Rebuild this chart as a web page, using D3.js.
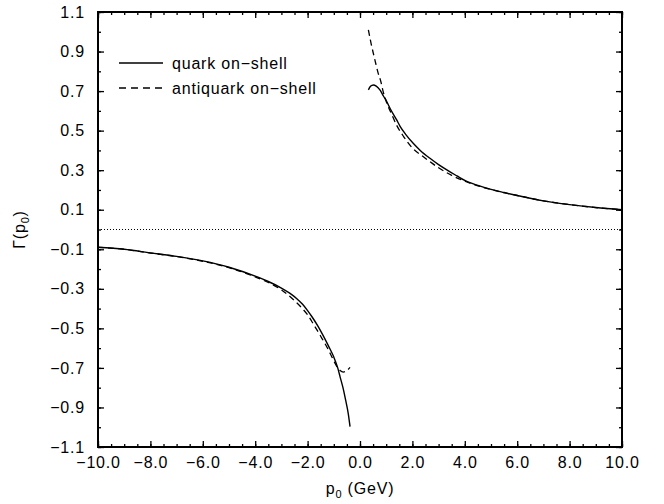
<!DOCTYPE html>
<html>
<head>
<meta charset="utf-8">
<script src="https://cdn.jsdelivr.net/npm/d3@7"></script>
<style>
  body { margin: 0; background: #fff; }
  text { font-family: "Liberation Sans", Arial, sans-serif; letter-spacing: 0.8px; }
</style>
</head>
<body>
<div id="chart"></div>
<script>
// quark on-shell (solid), two branches
var quarkPos = [[0.32,0.706],[0.40,0.724],[0.51,0.731],[0.62,0.725],[0.76,0.706],[0.9,0.674],[1.0,0.652],[1.15,0.612],[1.4,0.554],[1.53,0.522],[1.75,0.48],[2.03,0.436],[2.3,0.40],[2.67,0.36],[3.0,0.328],[3.33,0.30],[3.7,0.271],[4.0,0.248],[4.5,0.223],[5.0,0.203],[5.5,0.187],[6.0,0.172],[7.0,0.145],[8.0,0.126],[9.0,0.111],[10.0,0.100]];
var quarkNeg = [[-10.0,-0.090],[-9.0,-0.100],[-8.0,-0.118],[-7.0,-0.136],[-6.0,-0.159],[-5.0,-0.191],[-4.0,-0.236],[-3.5,-0.263],[-3.0,-0.296],[-2.67,-0.323],[-2.4,-0.351],[-2.2,-0.377],[-2.0,-0.410],[-1.84,-0.440],[-1.6,-0.490],[-1.4,-0.538],[-1.2,-0.590],[-1.0,-0.645],[-0.85,-0.700],[-0.76,-0.745],[-0.65,-0.80],[-0.55,-0.862],[-0.45,-0.93],[-0.38,-0.997]];
// antiquark on-shell (dashed)
var antiPos = [[0.32,1.01],[0.42,0.943],[0.57,0.857],[0.69,0.792],[0.8,0.746],[0.88,0.700],[1.0,0.648],[1.2,0.585],[1.4,0.527],[1.67,0.469],[2.0,0.412],[2.42,0.368],[3.0,0.312],[3.5,0.274],[4.0,0.244],[4.5,0.221],[5.0,0.202],[5.5,0.186],[6.0,0.172],[7.0,0.145],[8.0,0.126],[9.0,0.111],[10.0,0.100]];
var antiNeg = [[-10.0,-0.090],[-9.0,-0.100],[-8.0,-0.119],[-7.0,-0.137],[-6.0,-0.161],[-5.0,-0.193],[-4.0,-0.240],[-3.5,-0.268],[-3.0,-0.305],[-2.5,-0.360],[-2.2,-0.400],[-2.0,-0.432],[-1.78,-0.478],[-1.5,-0.540],[-1.27,-0.593],[-1.1,-0.637],[-0.95,-0.677],[-0.85,-0.700],[-0.76,-0.713],[-0.64,-0.721],[-0.5,-0.713],[-0.38,-0.697]];

var xTicks = d3.range(-10, 10.01, 2);
var xMinor = d3.range(-10, 10.01, 0.5);
var yTicks = [-1.1,-0.9,-0.7,-0.5,-0.3,-0.1,0.1,0.3,0.5,0.7,0.9,1.1];
var yMinor = d3.range(-11, 11.5, 1).map(d => d / 10);
var legendLabels = ["quark on\u2212shell", "antiquark on\u2212shell"];

var W = 664, H = 504;
var margin = {top: 12, right: 42, bottom: 57, left: 98};
var width = W - margin.left - margin.right;
var height = H - margin.top - margin.bottom;

var svg = d3.select("#chart").append("svg")
  .attr("width", W).attr("height", H);
var g = svg.append("g")
  .attr("transform", "translate(" + margin.left + "," + margin.top + ")");

var x = d3.scaleLinear().domain([-10, 10]).range([0, width]);
var y = d3.scaleLinear().domain([-1.1, 1.1]).range([height, 0]);

// zero line
g.append("line")
  .attr("x1", 0).attr("x2", width)
  .attr("y1", y(0)).attr("y2", y(0))
  .attr("stroke", "#000").attr("stroke-width", 1)
  .attr("stroke-dasharray", "1,2");

var line = d3.line().x(d => x(d[0])).y(d => y(d[1])).curve(d3.curveMonotoneX);

[quarkPos, quarkNeg].forEach(function(s) {
  g.append("path").datum(s).attr("d", line)
    .attr("fill", "none").attr("stroke", "#000").attr("stroke-width", 1.4);
});
[antiPos, antiNeg].forEach(function(s) {
  g.append("path").datum(s).attr("d", line)
    .attr("fill", "none").attr("stroke", "#000").attr("stroke-width", 1.3)
    .attr("stroke-dasharray", "6,4");
});

// axes: minor ticks first, then major with labels
function styleAxis(sel) {
  sel.select(".domain").remove();
  sel.selectAll("line").attr("stroke", "#000").attr("stroke-width", 1.3);
  sel.selectAll("text").attr("fill", "#000").style("font-size", "16px");
}

g.append("g").attr("transform", "translate(0," + height + ")")
  .call(d3.axisBottom(x).tickValues(xMinor).tickSize(-3).tickFormat(""))
  .call(styleAxis);
g.append("g").attr("transform", "translate(0," + height + ")")
  .call(d3.axisBottom(x).tickValues(xTicks).tickSize(-6).tickPadding(10).tickFormat(d3.format(".1f")))
  .call(styleAxis);
g.append("g")
  .call(d3.axisTop(x).tickValues(xMinor).tickSize(-3).tickFormat(""))
  .call(styleAxis);
g.append("g")
  .call(d3.axisTop(x).tickValues(xTicks).tickSize(-6).tickFormat(""))
  .call(styleAxis);

g.append("g")
  .call(d3.axisLeft(y).tickValues(yMinor).tickSize(-3).tickFormat(""))
  .call(styleAxis);
g.append("g")
  .call(d3.axisLeft(y).tickValues(yTicks).tickSize(-6).tickPadding(13).tickFormat(d3.format(".1f")))
  .call(styleAxis);
g.append("g").attr("transform", "translate(" + width + ",0)")
  .call(d3.axisRight(y).tickValues(yMinor).tickSize(-3).tickFormat(""))
  .call(styleAxis);
g.append("g").attr("transform", "translate(" + width + ",0)")
  .call(d3.axisRight(y).tickValues(yTicks).tickSize(-6).tickFormat(""))
  .call(styleAxis);

// frame
g.append("rect")
  .attr("width", width).attr("height", height)
  .attr("fill", "none").attr("stroke", "#000").attr("stroke-width", 2);

// axis titles
var xt = svg.append("text")
  .attr("x", margin.left + width / 2).attr("y", 494)
  .attr("text-anchor", "middle").style("font-size", "16px");
xt.append("tspan").text("p");
xt.append("tspan").attr("dy", 4).style("font-size", "11px").text("0");
xt.append("tspan").attr("dy", -4).text(" (GeV)");

var yt = svg.append("text")
  .attr("transform", "translate(25," + (margin.top + y(0)) + ") rotate(-90)")
  .attr("text-anchor", "middle").style("font-size", "16px");
yt.append("tspan").text("\u0393(p");
yt.append("tspan").attr("dy", 4).style("font-size", "11px").text("0");
yt.append("tspan").attr("dy", -4).text(")");

// legend
var legend = g.selectAll(".legend")
  .data(legendLabels)
  .enter().append("g")
  .attr("class", "legend")
  .attr("transform", (d, i) => "translate(21," + (51 + i * 25) + ")");

legend.append("line")
  .attr("x1", 0).attr("x2", 44)
  .attr("stroke", "#000").attr("stroke-width", 1.4)
  .attr("stroke-dasharray", (d, i) => i ? "7,5" : null);

legend.append("text")
  .attr("x", 53).attr("y", 0).attr("dy", "0.35em")
  .style("font-size", "16px")
  .text(d => d);
</script>
</body>
</html>
